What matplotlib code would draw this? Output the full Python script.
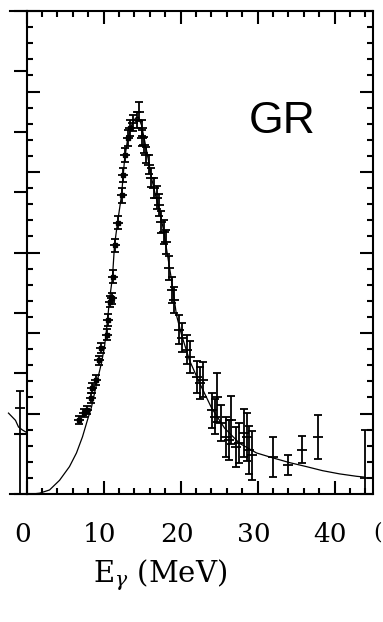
import numpy as np
import matplotlib
matplotlib.use("Agg")
import matplotlib.pyplot as plt
from matplotlib.ticker import MultipleLocator, FixedLocator, FixedFormatter
import matplotlib.transforms as mtransforms

plt.rcParams["mathtext.fontset"] = "dejavuserif"

# ---- GR photoabsorption: data points (E in MeV, cross section, error) ----
e_pts = [6.88, 7.53, 7.92, 8.44, 8.57, 9.09, 9.48, 9.74, 10.39, 10.52,
         10.78, 11.04, 11.17, 11.43, 11.82, 12.34, 12.47, 12.73, 13.12, 13.38,
         13.77, 14.29, 14.55, 14.94, 15.06, 15.32, 15.58, 15.97, 16.23, 16.62,
         17.01, 17.27, 17.53, 17.92, 18.18, 18.57, 18.96, 19.22, 19.87, 20.13,
         20.78, 21.17, 22.08, 22.47, 22.86, 24.03, 24.42, 24.68, 25.32, 25.97,
         26.36, 26.62, 27.27, 27.66, 28.31, 28.70, 28.96, 29.35, 31.95, 33.90,
         35.84, 37.92, 43.90]
sig_pts = [0.92, 1.01, 1.04, 1.19, 1.32, 1.42, 1.66, 1.81, 1.98, 2.16,
           2.39, 2.43, 2.70, 3.09, 3.37, 3.71, 3.96, 4.21, 4.42, 4.55,
           4.61, 4.65, 4.75, 4.55, 4.42, 4.34, 4.21, 4.09, 3.93, 3.80,
           3.68, 3.59, 3.38, 3.25, 3.13, 2.81, 2.53, 2.41, 2.04, 1.94,
           1.79, 1.70, 1.45, 1.38, 1.42, 1.04, 0.96, 1.20, 0.88, 0.71,
           0.67, 0.92, 0.58, 0.63, 0.76, 0.71, 0.55, 0.48, 0.46, 0.36,
           0.55, 0.71, 0.20]
err_pts = [0.05, 0.05, 0.05, 0.06, 0.06, 0.06, 0.06, 0.06, 0.07, 0.07,
           0.07, 0.07, 0.08, 0.08, 0.08, 0.09, 0.09, 0.09, 0.10, 0.10,
           0.10, 0.10, 0.12, 0.10, 0.10, 0.10, 0.10, 0.12, 0.12, 0.12,
           0.14, 0.14, 0.14, 0.15, 0.15, 0.15, 0.16, 0.16, 0.18, 0.18,
           0.18, 0.20, 0.20, 0.20, 0.22, 0.22, 0.22, 0.30, 0.22, 0.25,
           0.25, 0.30, 0.25, 0.25, 0.30, 0.30, 0.30, 0.30, 0.25, 0.13,
           0.17, 0.27, 0.60]

# ---- fitted curve ----
e_fit = [0.78, 1.69, 2.99, 4.29, 5.58, 6.49, 7.27, 7.92, 8.44, 8.83,
         9.22, 9.74, 10.13, 10.39, 10.78, 11.17, 11.43, 11.82, 12.34, 12.73,
         13.12, 13.64, 14.16, 14.55, 14.94, 15.32, 15.71, 16.23, 16.75, 17.27,
         17.79, 18.31, 18.83, 19.48, 20.13, 21.17, 22.47, 24.03, 25.71, 27.66,
         29.87, 31.95, 34.16, 36.36, 38.44, 40.65, 42.86, 43.90]
sig_fit = [0.00, 0.01, 0.05, 0.17, 0.34, 0.51, 0.71, 0.92, 1.08, 1.25,
           1.42, 1.63, 1.83, 2.04, 2.41, 2.70, 3.09, 3.37, 3.71, 4.15,
           4.40, 4.58, 4.67, 4.68, 4.58, 4.40, 4.21, 3.93, 3.71, 3.53,
           3.28, 2.97, 2.66, 2.22, 1.98, 1.66, 1.38, 1.07, 0.82, 0.63,
           0.51, 0.45, 0.39, 0.34, 0.29, 0.25, 0.22, 0.21]

# ---- neighbouring panel (only its right edge is visible) ----
e_nb_fit = [42.66, 43.57, 43.96, 44.48, 45.0]
sig_nb_fit = [1.34, 1.22, 1.11, 1.06, 1.02]
e_nb_pts = [44.22]
sig_nb_pts = [1.42]
err_nb_lo = [1.60]
err_nb_hi = [0.28]

x_ticks = [0, 10, 20, 30, 40]
x_ticklabels = ["0", "10", "20", "30", "40"]

W, H = 383, 622
fig = plt.figure(figsize=(W / 100, H / 100), dpi=100)

ax_l, ax_r, ax_b, ax_t = 26.5, 373.0, 494.0, 11.0
ax = fig.add_axes([ax_l / W, (H - ax_b) / H, (ax_r - ax_l) / W, (ax_b - ax_t) / H])

# neighbouring panel, sharing the left border of the main panel
nb_w = ax_r - ax_l
axn = fig.add_axes([(ax_l - nb_w) / W, (H - ax_b) / H, nb_w / W, (ax_b - ax_t) / H])
axn.set_xlim(0, 45)
axn.set_ylim(0, 8)
axn.plot(e_nb_fit, sig_nb_fit, color="black", lw=0.9)
axn.errorbar(e_nb_pts, sig_nb_pts, yerr=[err_nb_lo, err_nb_hi], fmt="_",
             color="black", ms=7, mew=1.3, elinewidth=1.3, capsize=3, capthick=1.3)
axn.spines["left"].set_visible(False)
axn.spines["right"].set_visible(False)
for s in ("top", "bottom"):
    axn.spines[s].set_linewidth(1.5)
    axn.spines[s].set_bounds(42.85, 45)
axn.set_xticks([])
axn.yaxis.set_major_locator(MultipleLocator(1))
axn.tick_params(axis="y", which="major", direction="in", right=True, left=False,
                labelleft=False, labelright=False, length=9.5, width=1.5)
axn.patch.set_visible(False)

# main panel
ax.set_xlim(0, 45)
ax.set_ylim(0, 6)
ax.plot(e_fit, sig_fit, color="black", lw=0.9, zorder=2)

e = np.array(e_pts)
s = np.array(sig_pts)
er = np.array(err_pts)
ax.errorbar(e, s, yerr=er, fmt="_", color="black", ms=7, mew=1.3,
            elinewidth=1.3, capsize=3, capthick=1.3, zorder=3)
rise = e < 13.5
ax.plot(e[rise], s[rise], "s", color="black", ms=3, zorder=4)

for sp in ax.spines.values():
    sp.set_linewidth(1.5)

ax.xaxis.set_major_locator(FixedLocator(x_ticks))
ax.xaxis.set_major_formatter(FixedFormatter(x_ticklabels))
ax.xaxis.set_minor_locator(MultipleLocator(2))
ax.yaxis.set_major_locator(MultipleLocator(1))
ax.yaxis.set_minor_locator(MultipleLocator(0.2))
ax.tick_params(which="both", direction="in", top=True, right=True,
               labelleft=False, width=1.5)
ax.tick_params(which="major", length=9.5)
ax.tick_params(which="minor", length=4.5)
ax.tick_params(axis="x", which="major", pad=20, labelsize=19)
for lab in ax.get_xticklabels():
    lab.set_fontfamily("DejaVu Serif")
    lab.set_transform(lab.get_transform() +
                      mtransforms.ScaledTranslation(-4 / 100, 0, fig.dpi_scale_trans))

ax.text(0.642, 0.747, "GR", transform=ax.transAxes, fontsize=32,
        family="Liberation Sans", ha="left", va="baseline")

fig.text(160 / W, (H - 582) / H, r"$\mathrm{E}_{\gamma}\ \mathrm{(MeV)}$",
         fontsize=21, ha="center", va="baseline")

# edge of the adjoining panel's first tick label
fig.text(382 / W, (H - 532) / H, "(", family="DejaVu Serif", fontsize=16,
         ha="right", va="center")

fig.savefig("out.png", dpi=100)
